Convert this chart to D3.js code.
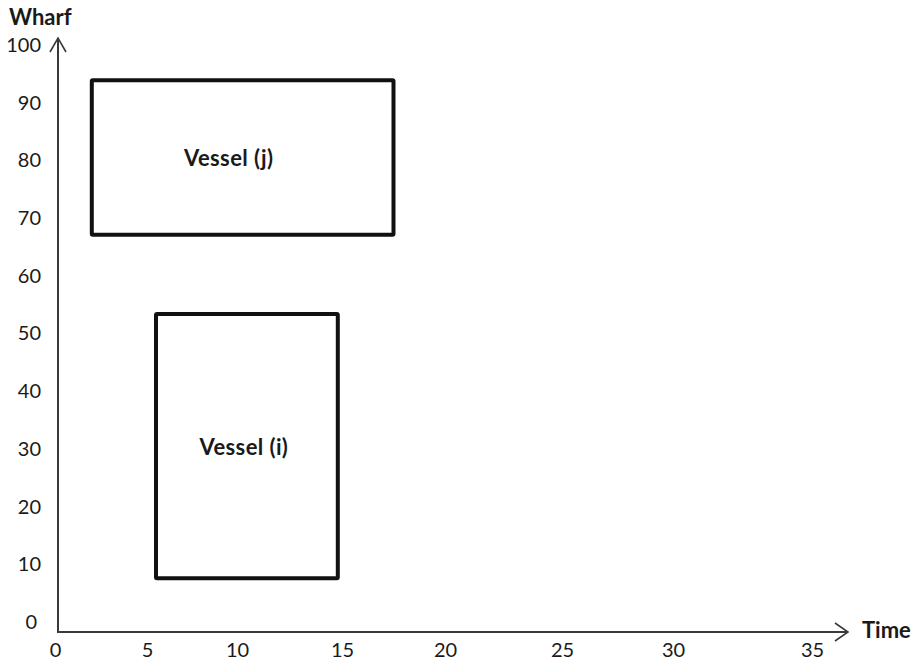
<!DOCTYPE html>
<html>
<head>
<meta charset="utf-8">
<script src="https://cdn.jsdelivr.net/npm/d3@7"></script>
<style>
  html, body { margin: 0; padding: 0; background: #fff; }
  svg { display: block; }
  text { font-family: Lato, "Open Sans", sans-serif; fill: #1a1a1a; }
</style>
</head>
<body>
<svg id="chart" width="921" height="665"></svg>
<script>
// ---- data ----
const xTicks = [0, 5, 10, 15, 20, 25, 30, 35];
const yTicks = [0, 10, 20, 30, 40, 50, 60, 70, 80, 90, 100];
const vesselNames = ["Vessel (j)", "Vessel (i)"];
const timeStart = [2.0, 5.5];
const timeEnd = [17.5, 14.8];
const wharfStart = [67.1, 7.6];
const wharfEnd = [93.9, 53.4];
const xTitle = "Time";
const yTitle = "Wharf";

// ---- layout ----
const svg = d3.select("#chart");
// tick positions of the hand-drawn axis are not evenly spaced
const xRange = [55, 147, 237, 342, 445, 562, 673, 812];
const x = d3.scaleLinear().domain(xTicks).range(xRange);
const y = d3.scaleLinear().domain([0, 100]).range([622, 45]);

const axisX0 = 58, axisY0 = 632, axisXEnd = 848, axisYEnd = 38;
const axisColor = "#3a3a3a";

// axis lines
svg.append("line").attr("x1", axisX0).attr("y1", axisY0 + 1).attr("x2", axisX0).attr("y2", axisYEnd)
  .attr("stroke", axisColor).attr("stroke-width", 2);
svg.append("line").attr("x1", axisX0 - 1).attr("y1", axisY0).attr("x2", axisXEnd).attr("y2", axisY0)
  .attr("stroke", axisColor).attr("stroke-width", 2);
// arrowheads
svg.append("path").attr("d", `M${axisX0 - 8},${axisYEnd + 14}L${axisX0},${axisYEnd}L${axisX0 + 8},${axisYEnd + 14}`)
  .attr("fill", "none").attr("stroke", axisColor).attr("stroke-width", 1.6);
svg.append("path").attr("d", `M${axisXEnd - 13},${axisY0 - 9}L${axisXEnd},${axisY0}L${axisXEnd - 13},${axisY0 + 9}`)
  .attr("fill", "none").attr("stroke", axisColor).attr("stroke-width", 1.6);

// tick labels via d3 axes
const gx = svg.append("g").attr("transform", `translate(0,${axisY0})`)
  .call(d3.axisBottom(x).tickValues(xTicks).tickSize(0).tickPadding(11).tickFormat(d3.format("d")));
gx.select(".domain").remove();
gx.selectAll("text").style("font-size", "20px").style("font-family", "Lato, sans-serif").attr("fill", "#1a1a1a");

const gy = svg.append("g").attr("transform", `translate(41,0)`)
  .call(d3.axisLeft(y).tickValues(yTicks).tickSize(0).tickPadding(0).tickFormat(d3.format("d")));
gy.select(".domain").remove();
gy.selectAll("text").style("font-size", "20px").style("font-family", "Lato, sans-serif").attr("fill", "#1a1a1a");
gy.selectAll(".tick").filter(d => d === 0).select("text").attr("dx", -4);

// axis titles
svg.append("text").attr("x", 9).attr("y", 25).text(yTitle)
  .style("font-size", "22px").style("font-weight", "bold");
svg.append("text").attr("x", 862).attr("y", 638).text(xTitle)
  .style("font-size", "22px").style("font-weight", "bold");

// vessels
const vessels = vesselNames.map((n, i) => ({ name: n, t0: timeStart[i], t1: timeEnd[i], w0: wharfStart[i], w1: wharfEnd[i] }));
const labelShift = [-14, -3];
const g = svg.append("g").selectAll("g").data(vessels).join("g");
g.append("rect")
  .attr("x", d => x(d.t0)).attr("y", d => y(d.w1))
  .attr("width", d => x(d.t1) - x(d.t0)).attr("height", d => y(d.w0) - y(d.w1))
  .attr("fill", "none").attr("stroke", "#111").attr("stroke-width", 4).attr("rx", 1);
g.append("text")
  .attr("x", (d, i) => (x(d.t0) + x(d.t1)) / 2 + labelShift[i])
  .attr("y", (d, i) => i === 0 ? 158 : 447)
  .attr("dy", "0.35em").attr("text-anchor", "middle")
  .style("font-size", "22px").style("font-weight", "bold").style("letter-spacing", "0.4px")
  .text(d => d.name);
</script>
</body>
</html>
